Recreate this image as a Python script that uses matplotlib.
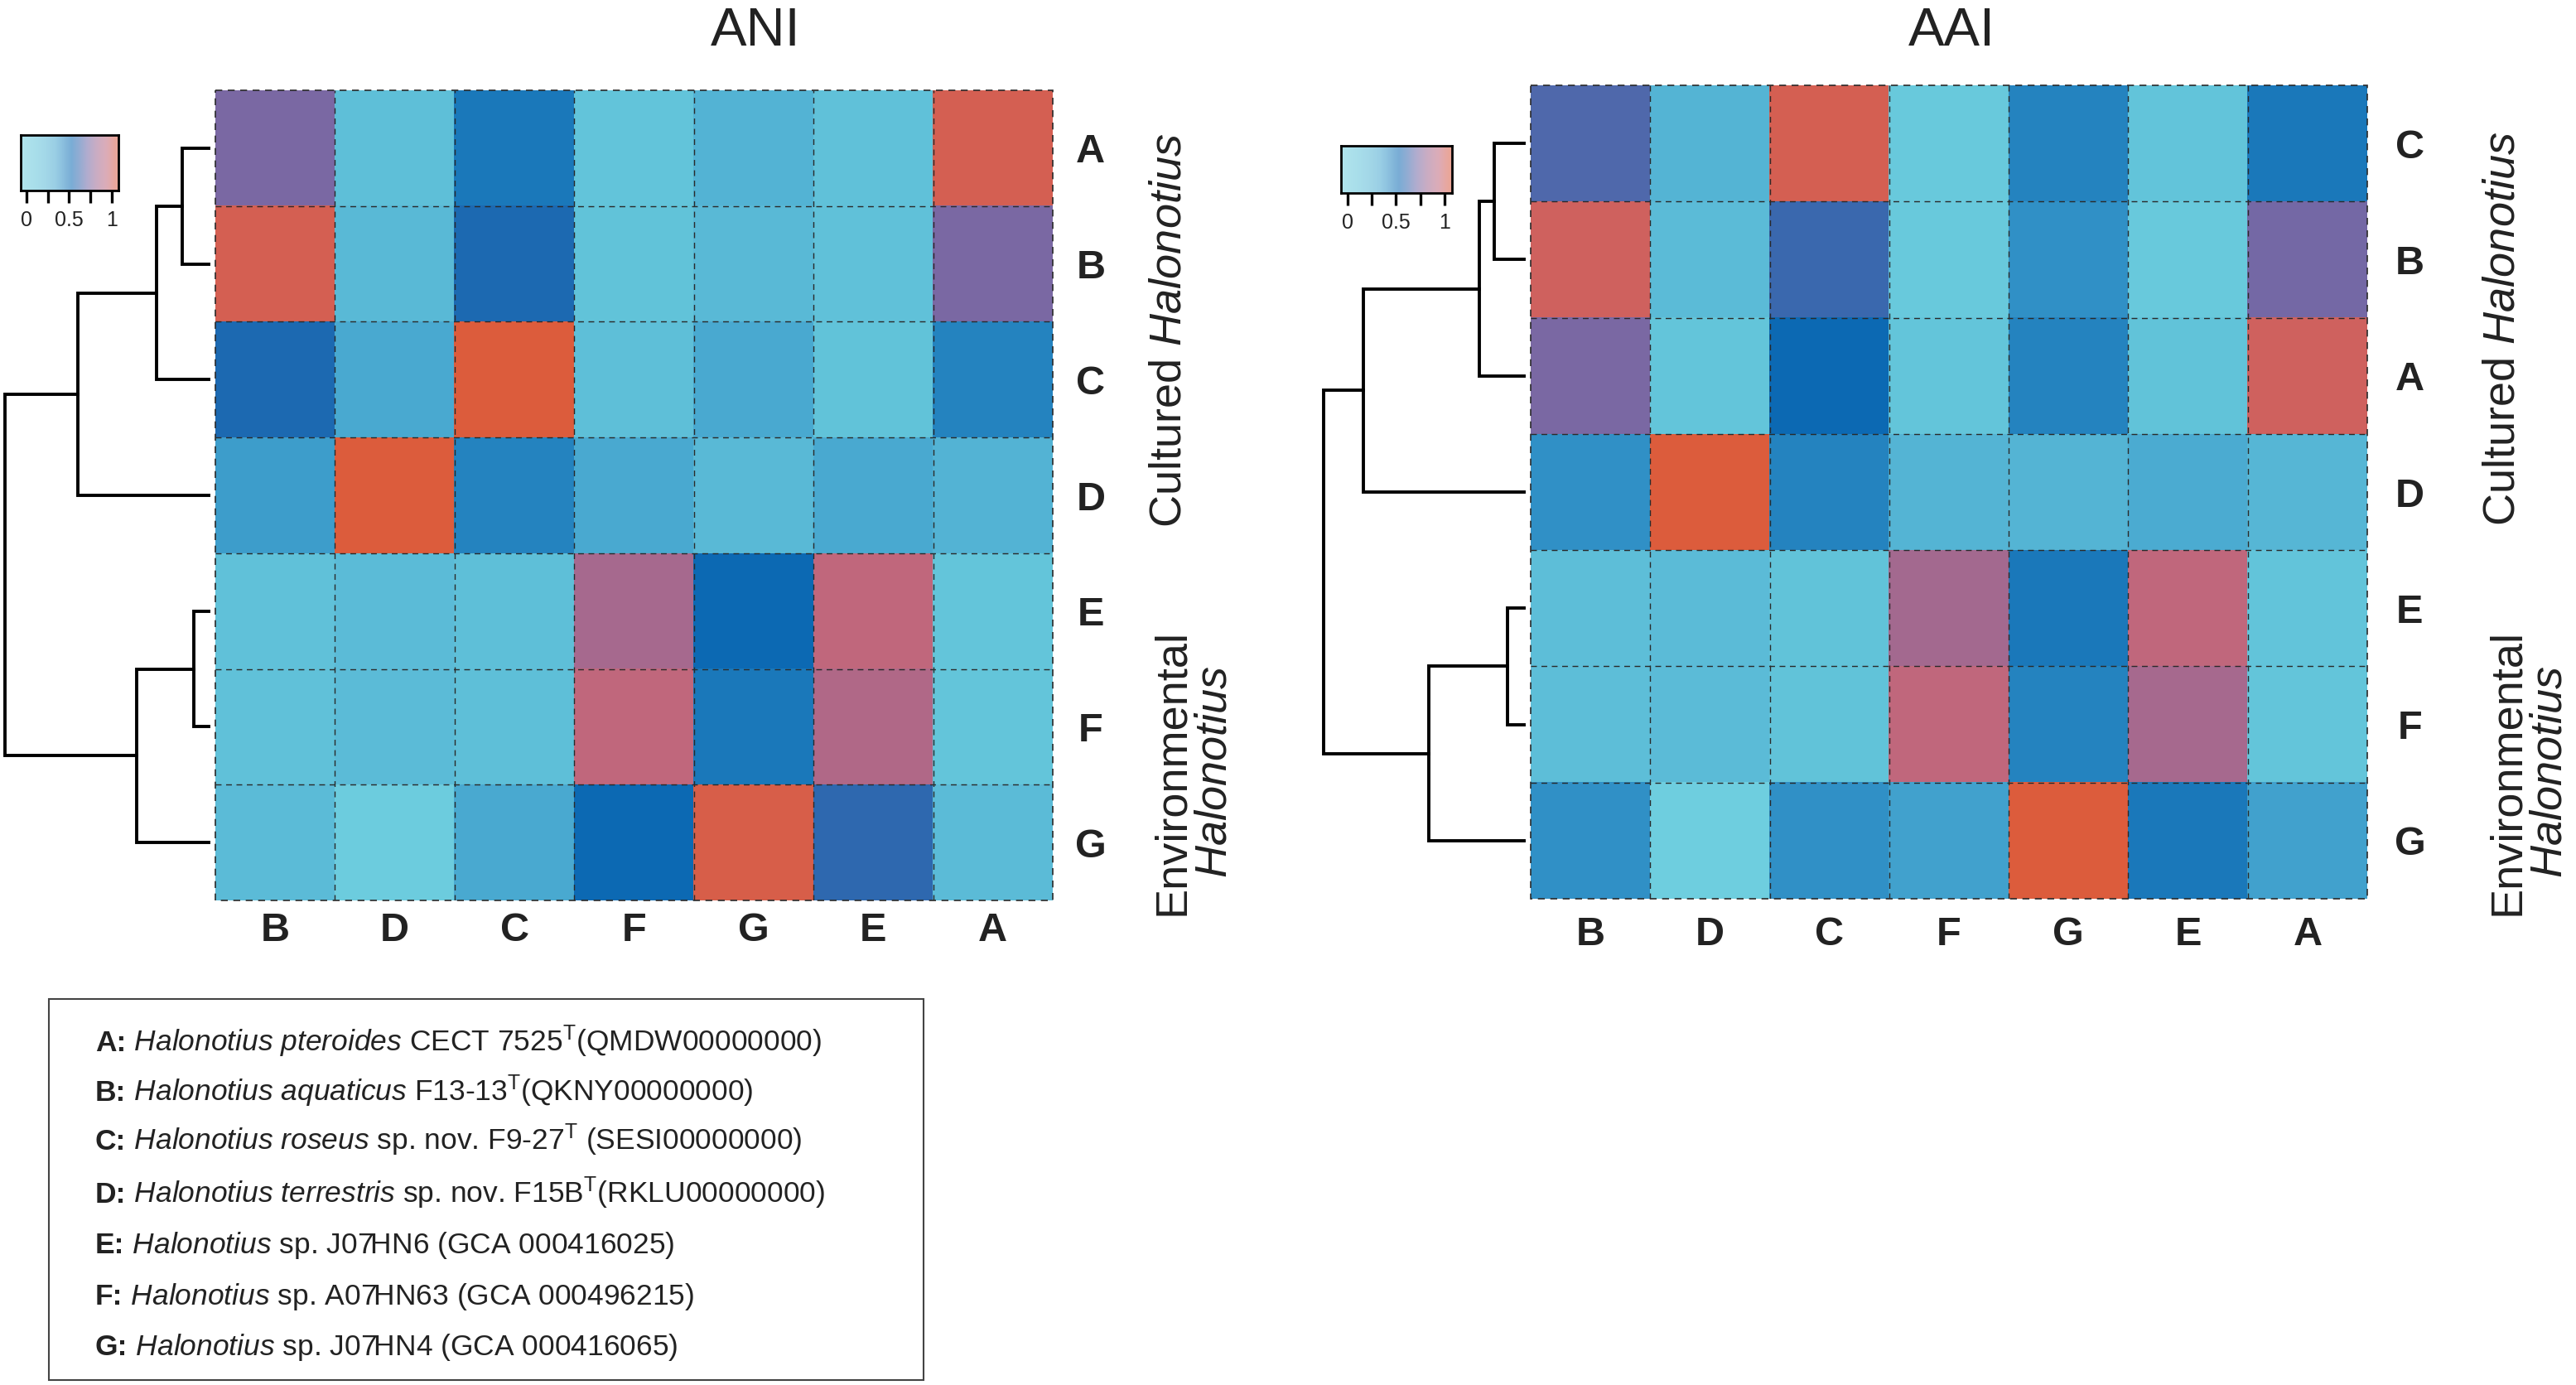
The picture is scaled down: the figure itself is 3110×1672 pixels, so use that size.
import numpy as np
import matplotlib
matplotlib.use("Agg")
import matplotlib.pyplot as plt
from matplotlib.colors import LinearSegmentedColormap
from matplotlib.patches import Rectangle

plt.rcParams['font.family'] = ['Liberation Sans', 'DejaVu Sans']
plt.rcParams['mathtext.fontset'] = 'custom'
plt.rcParams['mathtext.rm'] = 'Liberation Sans'
plt.rcParams['mathtext.it'] = 'Liberation Sans:italic'
plt.rcParams['mathtext.bf'] = 'Liberation Sans:bold'

# ---- data (normalised similarity) ----
col_labels = ['B', 'D', 'C', 'F', 'G', 'E', 'A']

ani_rows = ['A', 'B', 'C', 'D', 'E', 'F', 'G']
ani_values = np.array([
    [0.70, 0.19, 0.48, 0.15, 0.28, 0.17, 0.95],
    [0.95, 0.24, 0.55, 0.16, 0.24, 0.17, 0.70],
    [0.55, 0.34, 1.00, 0.19, 0.34, 0.16, 0.45],
    [0.38, 1.00, 0.45, 0.34, 0.24, 0.34, 0.28],
    [0.17, 0.22, 0.19, 0.80, 0.52, 0.88, 0.14],
    [0.17, 0.22, 0.19, 0.88, 0.48, 0.83, 0.14],
    [0.22, 0.04, 0.34, 0.52, 0.97, 0.58, 0.22],
])
# merges: (left, right, height)
ani_merges = [('A', 'B', 16), ('AB', 'C', 32), ('ABC', 'D', 79.5),
              ('E', 'F', 9), ('EF', 'G', 44), ('ABCD', 'EFG', 124)]

aai_rows = ['C', 'B', 'A', 'D', 'E', 'F', 'G']
aai_values = np.array([
    [0.63, 0.27, 0.95, 0.08, 0.45, 0.15, 0.48],
    [0.93, 0.22, 0.60, 0.08, 0.42, 0.08, 0.69],
    [0.70, 0.13, 0.52, 0.13, 0.45, 0.16, 0.93],
    [0.42, 1.00, 0.45, 0.27, 0.27, 0.33, 0.26],
    [0.20, 0.22, 0.16, 0.79, 0.48, 0.88, 0.15],
    [0.20, 0.22, 0.16, 0.88, 0.45, 0.80, 0.13],
    [0.42, 0.02, 0.42, 0.37, 1.00, 0.48, 0.37],
])
aai_merges = [('C', 'B', 18), ('CB', 'A', 27), ('CBA', 'D', 98),
              ('E', 'F', 10), ('EF', 'G', 58), ('CBAD', 'EFG', 122)]

legend_keys = ['A', 'B', 'C', 'D', 'E', 'F', 'G']
legend_species = ['Halonotius pteroides', 'Halonotius aquaticus', 'Halonotius roseus',
                  'Halonotius terrestris', 'Halonotius', 'Halonotius', 'Halonotius']
legend_strain = [' CECT 7525', ' F13-13', ' sp. nov. F9-27', ' sp. nov. F15B',
                 ' sp. J07HN6', ' sp. A07HN63', ' sp. J07HN4']
legend_type_strain = [True, True, True, True, False, False, False]
legend_accession = ['(QMDW00000000)', '(QKNY00000000)', ' (SESI00000000)', '(RKLU00000000)',
                    ' (GCA 000416025)', ' (GCA 000496215)', ' (GCA 000416065)']

# ---- colours ----
cmap_pos = [0.0, 0.15, 0.25, 0.35, 0.42, 0.48, 0.52, 0.60, 0.68, 0.78, 0.88, 0.95, 1.0]
cmap_col = ['#70d0e0', '#62c4da', '#58b8d6', '#48a8d0', '#3090c6', '#1a78ba', '#0c6ab4',
            '#3a68ae', '#7068a8', '#a06a92', '#c0687e', '#d46054', '#dc5c3c']
cmap = LinearSegmentedColormap.from_list('ani', list(zip(cmap_pos, cmap_col)))
TXT = '#222222'

W, H = 3110, 1672
fig = plt.figure(figsize=(W / 100, H / 100), dpi=100)


def px_axes(x0, y0, x1, y1):
    return fig.add_axes([x0 / W, 1 - y1 / H, (x1 - x0) / W, (y1 - y0) / H])


def heatmap(box, values, rows, row_pad, col_pad):
    ax = px_axes(*box)
    ax.imshow(values, cmap=cmap, vmin=0, vmax=1, aspect='auto', interpolation='nearest')
    n_r, n_c = values.shape
    for k in range(1, n_r):
        ax.axhline(k - 0.5, color='#2a2a2a', lw=1.0, ls=(0, (5, 4)))
    for k in range(1, n_c):
        ax.axvline(k - 0.5, color='#2a2a2a', lw=1.0, ls=(0, (5, 4)))
    ax.add_patch(Rectangle((-0.5, -0.5), n_c, n_r, fill=False, ec='#2a2a2a', lw=1.2,
                           ls=(0, (5, 4)), clip_on=False))
    for s in ax.spines.values():
        s.set_visible(False)
    ax.set_xticks(range(n_c))
    ax.set_xticklabels(col_labels, fontsize=35, fontweight='bold', color=TXT, va='center')
    ax.yaxis.tick_right()
    ax.set_yticks(range(n_r))
    ax.set_yticklabels(rows, fontsize=35, fontweight='bold', color=TXT, ha='center')
    ax.tick_params(axis='x', length=0, pad=col_pad)
    ax.tick_params(axis='y', length=0, pad=row_pad)
    return ax


def dendro(box, leaves, merges, root_h):
    ax = px_axes(*box)
    pos = {leaf: (i, 0.0) for i, leaf in enumerate(leaves)}
    for a, b, h in merges:
        ya, ha = pos[a]
        yb, hb = pos[b]
        ax.plot([ha, h, h, hb], [ya, ya, yb, yb], color='black', lw=2.8,
                solid_joinstyle='miter', clip_on=False)
        pos[a + b] = ((ya + yb) / 2, h)
    ax.set_xlim(root_h, 0)
    ax.set_ylim(len(leaves) - 0.5, -0.5)
    ax.axis('off')


def colorbar(box):
    ax = px_axes(*box)
    grad = np.linspace(0, 1, 256)[None, :]
    ax.imshow(grad, cmap=cmap, aspect='auto', extent=(-0.07, 1.08, 0, 1), alpha=0.55)
    ax.set_xlim(-0.07, 1.08)
    ax.set_ylim(0, 1)
    ax.set_yticks([])
    ax.set_xticks([0, 0.25, 0.5, 0.75, 1])
    ax.set_xticklabels(['0', '', '0.5', '', '1'], fontsize=18, color=TXT)
    ax.tick_params(axis='x', length=11, width=2.4, pad=6)
    for s in ax.spines.values():
        s.set_linewidth(2)


# ANI panel
heatmap((260, 109, 1271, 1087), ani_values, ani_rows, row_pad=33, col_pad=26)
dendro((6, 109, 252, 1087), ani_rows, ani_merges, 124)
colorbar((25, 163, 143, 230))
fig.text(912 / W, 1 - 38 / H, 'ANI', fontsize=47, color=TXT, ha='center', va='center')
fig.text(1412 / W, 1 - 399 / H, r'Cultured $\mathit{Halonotius}$', fontsize=39, color=TXT,
         rotation=90, ha='center', va='center')
fig.text(1441 / W, 1 - 932 / H, 'Environmental\n' + r'$\mathit{Halonotius}$', fontsize=39,
         color=TXT, rotation=90, ha='center', va='center', multialignment='center',
         linespacing=1.05)

# AAI panel
heatmap((1848, 103, 2858, 1085), aai_values, aai_rows, row_pad=37, col_pad=31)
dendro((1598, 103, 1840, 1085), aai_rows, aai_merges, 122)
colorbar((1619, 176, 1753, 233))
fig.text(2356 / W, 1 - 38 / H, 'AAI', fontsize=47, color=TXT, ha='center', va='center')
fig.text(3022 / W, 1 - 397 / H, r'Cultured $\mathit{Halonotius}$', fontsize=39, color=TXT,
         rotation=90, ha='center', va='center')
fig.text(3053 / W, 1 - 932 / H, 'Environmental\n' + r'$\mathit{Halonotius}$', fontsize=39,
         color=TXT, rotation=90, ha='center', va='center', multialignment='center',
         linespacing=1.05)

# species key box
fig.patches.append(Rectangle((59 / W, 1 - 1666 / H), (1115 - 59) / W, (1666 - 1206) / H,
                             transform=fig.transFigure, fill=False, ec='#444444', lw=1.5))
renderer = fig.canvas.get_renderer()
line_y = [1257, 1317, 1376, 1440, 1501, 1563, 1624]
for i, key in enumerate(legend_keys):
    y = 1 - (line_y[i] + 12) / H   # baseline sits half a cap height below the line centre
    t = fig.text(115 / W, y, key + ':', fontsize=25.5, fontweight='bold', color=TXT,
                 ha='left', va='baseline')
    x1 = t.get_window_extent(renderer).x1 / W
    sp = legend_species[i].replace(' ', r'\ ')
    s = r' $\mathit{' + sp + '}$' + legend_strain[i]
    if legend_type_strain[i]:
        s += r'$^{\mathrm{T}}$'
    s += legend_accession[i]
    fig.text(x1, y, s, fontsize=25.5, color=TXT, ha='left', va='baseline')

fig.savefig('out.png', dpi=100, facecolor='white')
